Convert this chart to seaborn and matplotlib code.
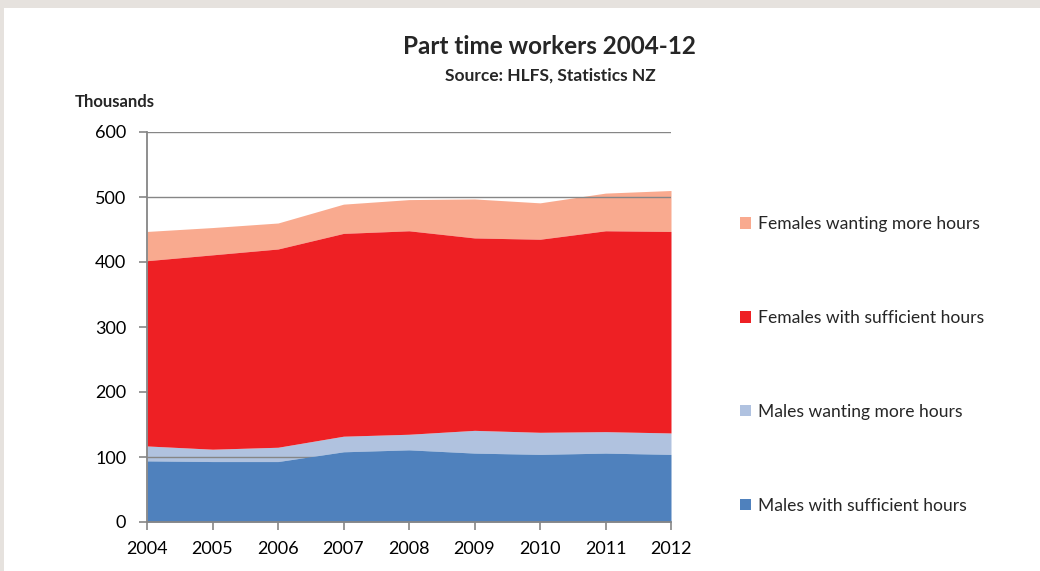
import matplotlib
matplotlib.use("Agg")
import matplotlib.pyplot as plt
import seaborn as sns
import pandas as pd
from matplotlib.patches import Patch

years = [2004, 2005, 2006, 2007, 2008, 2009, 2010, 2011, 2012]
males_sufficient = [94, 93, 93, 108, 111, 106, 104, 106, 104]
males_wanting = [23, 19, 22, 24, 24, 35, 34, 33, 33]
females_sufficient = [285, 299, 305, 312, 313, 296, 297, 309, 310]
females_wanting = [45, 42, 40, 45, 48, 60, 56, 58, 63]

series_names = ["Males with sufficient hours", "Males wanting more hours",
                "Females with sufficient hours", "Females wanting more hours"]
series_values = [males_sufficient, males_wanting, females_sufficient, females_wanting]
y_ticks = [0, 100, 200, 300, 400, 500, 600]

# (colour, alpha) -- lighter layers let the gridlines show through as in the reference
styles = [((0.310, 0.506, 0.741), 1.0),
          ((0.587, 0.681, 0.837), 0.75),
          ((0.933, 0.125, 0.141), 1.0),
          ((0.968, 0.556, 0.415), 0.75)]

sns.set_theme(style="white")
plt.rcParams['font.family'] = ['Lato', 'DejaVu Sans']

df = pd.DataFrame({"year": years})
for n, v in zip(series_names, series_values):
    df[n] = v

fig = plt.figure(figsize=(10.4, 5.71), dpi=100)
fig.patch.set_facecolor("#e6e2de")
bg = fig.add_axes([4/1040, 0, 1 - 4/1040, 1 - 8/571])
bg.set_facecolor("white")
bg.set_xticks([]); bg.set_yticks([])
for s in bg.spines.values():
    s.set_visible(False)
bg.set_zorder(-10)

ax = fig.add_axes([147/1040, 1 - 522/571, (671 - 147)/1040, (522 - 132)/571])
ax.set_facecolor("none")

grid_c = "#868686"
for t in y_ticks[1:]:
    ax.axhline(t, color=grid_c, lw=1.0, zorder=1)

bottom = pd.Series([0]*len(years), dtype=float)
handles = []
for n, (c, a) in zip(series_names, styles):
    top = bottom + df[n]
    ax.fill_between(df["year"], bottom, top, color=c, alpha=a, lw=0, zorder=2 if a == 1.0 else 0.5)
    sns.lineplot(x=df["year"], y=top, ax=ax, lw=0, legend=False)
    handles.append(Patch(facecolor=(a*c[0] + 1 - a, a*c[1] + 1 - a, a*c[2] + 1 - a), edgecolor='none', label=n))
    bottom = top

ax.set_xlim(2004, 2012)
ax.set_ylim(0, 600)
ax.set_xticks(years)
ax.set_xticklabels([str(y) for y in years], fontsize=13)
ax.set_yticks(y_ticks)
ax.set_yticklabels([str(t) for t in y_ticks], fontsize=13)
ax.set_xlabel(""); ax.set_ylabel("")
for s in ["top", "right"]:
    ax.spines[s].set_visible(False)
for s in ["left", "bottom"]:
    ax.spines[s].set_color(grid_c)
    ax.spines[s].set_linewidth(1.3)
    ax.spines[s].set_zorder(5)
ax.tick_params(axis='both', direction='out', length=6, width=1.2, color=grid_c,
               colors='black', left=True, bottom=True)
ax.tick_params(axis='x', pad=8)
ax.tick_params(axis='y', pad=9)

fig.text(549/1040, 1 - 47/571, "Part time workers 2004-12", ha='center', va='center',
         fontsize=17.5, fontweight='bold')
fig.text(550/1040, 1 - 76/571, "Source: HLFS, Statistics NZ", ha='center', va='center',
         fontsize=12.5, fontweight='bold')
fig.text(75/1040, 1 - 102/571, "Thousands", ha='left', va='center', fontsize=12, fontweight='bold')

leg = fig.legend(handles=handles[::-1], loc='upper left', bbox_to_anchor=(733/1040, 1 - 209/571),
                 frameon=False, fontsize=12.6, handlelength=0.65, handleheight=0.65,
                 handletextpad=0.4, labelspacing=4.45, borderaxespad=0)

fig.savefig("out.png", dpi=100, facecolor=fig.get_facecolor())
